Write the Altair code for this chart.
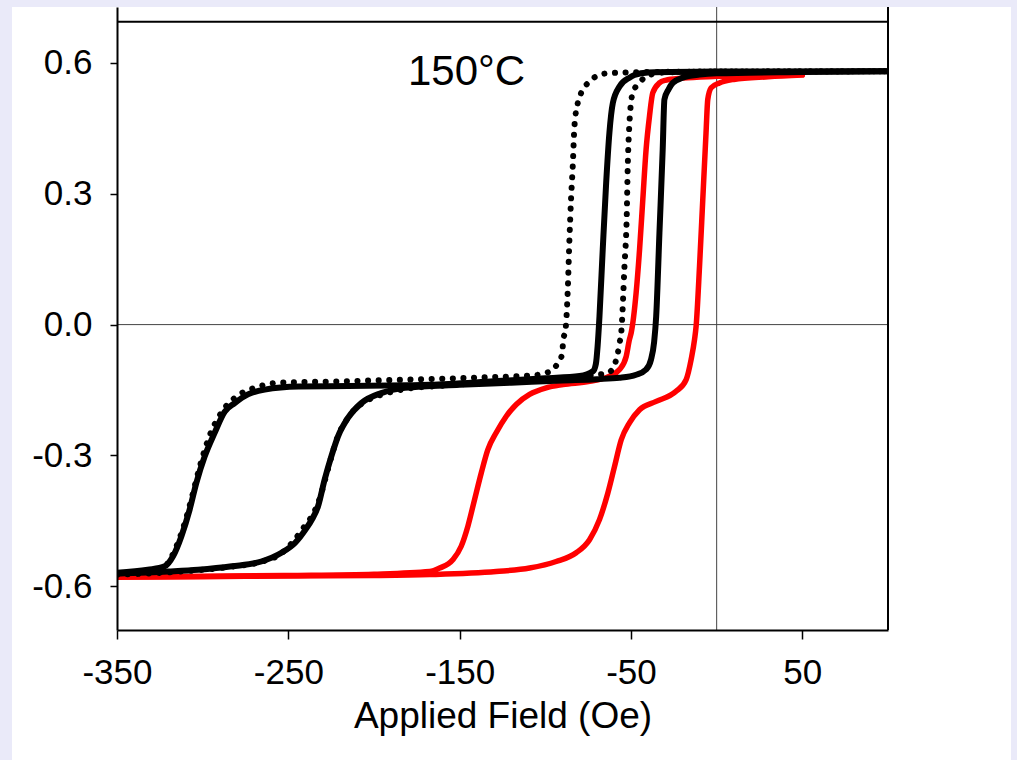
import altair as alt
import pandas as pd

# ---- data (Applied field in Oe, moment) ----
DOT_DOWN_F = [100, 50, 0, -40, -60, -66, -69.4, -74.2, -79.1, -81, -83, -84, -85, -86, -86.9, -88.2,
              -89.7, -90, -92.7, -97.6, -109, -130, -160, -200, -230, -246, -258, -269.7, -275.4,
              -281.3, -287.2, -291, -295, -298.8, -302.7, -306.6, -310.5, -315.3, -320.2, -324, -335, -350]
DOT_DOWN_M = [0.581, 0.58, 0.58, 0.579, 0.577, 0.575, 0.571, 0.557, 0.531, 0.509, 0.455, 0.363, 0.287,
              0.188, 0.08, -0.011, -0.038, -0.065, -0.088, -0.108, -0.117, -0.12, -0.124, -0.128,
              -0.131, -0.132, -0.134, -0.145, -0.153, -0.168, -0.191, -0.214, -0.245, -0.287, -0.34,
              -0.40, -0.455, -0.508, -0.546, -0.562, -0.568, -0.572]

DOT_UP_F = [-350, -320, -300, -283, -266, -254, -246.3, -240.5, -235, -231, -228.5, -225, -221.5, -216,
            -210, -203, -195, -182, -160, -130, -100, -80, -70.3, -63.5, -59.6, -57.7, -56.7, -55.7,
            -53.8, -52.5, -51.9, -51, -49, -45.2, -39.2, -30, 0, 100]
DOT_UP_M = [-0.573, -0.568, -0.562, -0.555, -0.544, -0.524, -0.493, -0.462, -0.43, -0.39, -0.355,
            -0.305, -0.26, -0.218, -0.19, -0.172, -0.16, -0.148, -0.14, -0.132, -0.125, -0.12, -0.115,
            -0.111, -0.092, -0.065, -0.042, -0.019, 0.134, 0.248, 0.363, 0.455, 0.531, 0.554, 0.572,
            0.578, 0.58, 0.581]

SOL_DOWN_F = [100, 0, -40, -48, -50.9, -56.7, -60.6, -62.6, -64.5, -66.5, -68.4, -69.5, -70.5, -72.2,
              -80, -100, -130, -167.7, -180.2, -215.2, -244, -263.8, -273.6, -281.3, -287.2, -293,
              -298.8, -303.7, -307.6, -312.4, -317.3, -322.2, -332, -350]
SOL_DOWN_M = [0.581, 0.58, 0.578, 0.572, 0.566, 0.546, 0.508, 0.44, 0.325, 0.172, 0.019, -0.05, -0.09,
              -0.107, -0.118, -0.123, -0.13, -0.138, -0.139, -0.141, -0.142, -0.149, -0.16, -0.18,
              -0.2, -0.248, -0.302, -0.363, -0.424, -0.485, -0.531, -0.554, -0.562, -0.569]

SOL_UP_F = [-350, -320, -302.7, -283, -265.8, -254, -246, -240, -236, -232.7, -228.8, -224.9, -221,
            -215.2, -207.4, -195.8, -182, -150, -120, -90, -70, -56.7, -47, -41.2, -38.3, -36.5,
            -35.3, -33.4, -31.5, -30.5, -28, -25.6, -19.8, -10, 0, 50, 100]
SOL_UP_M = [-0.571, -0.566, -0.562, -0.554, -0.543, -0.523, -0.5, -0.47, -0.445, -0.417, -0.355,
            -0.302, -0.256, -0.214, -0.18, -0.157, -0.145, -0.138, -0.133, -0.128, -0.125, -0.122,
            -0.115, -0.103, -0.08, -0.04, 0.019, 0.21, 0.401, 0.516, 0.54, 0.554, 0.566, 0.573,
            0.576, 0.579, 0.581]

RED_DOWN_F = [50, 0, -20, -30, -33.4, -37.3, -39.2, -41.2, -43.1, -45, -47, -49.9, -50.9, -52.8, -56.7,
              -62.6, -74.2, -89.7, -99.5, -109.2, -117, -122.8, -128.7, -133.6, -137.4, -141.3,
              -145.2, -149.1, -154, -161.7, -167.5, -200, -250, -300, -350]
RED_DOWN_M = [0.573, 0.569, 0.565, 0.56, 0.554, 0.531, 0.478, 0.401, 0.287, 0.172, 0.073, -0.019,
              -0.034, -0.073, -0.103, -0.118, -0.13, -0.1375, -0.145, -0.16, -0.183, -0.21, -0.248,
              -0.287, -0.34, -0.401, -0.462, -0.508, -0.539, -0.558, -0.566, -0.572, -0.575, -0.577,
              -0.578]

RED_UP_F = [-350, -300, -250, -200, -167.5, -128.7, -109.2, -93.7, -82, -74.2, -68.4, -63.5, -59.6,
            -55.7, -50.9, -45, -35.3, -23.7, -17.8, -14.9, -12.9, -12, -10, -8.1, -6.2, -5.2, -3.2,
            1.6, 10, 30, 50]
RED_UP_M = [-0.579, -0.578, -0.576, -0.575, -0.573, -0.566, -0.558, -0.543, -0.523, -0.493, -0.447,
            -0.386, -0.325, -0.264, -0.225, -0.195, -0.176, -0.153, -0.126, -0.08, -0.034, -0.004,
            0.134, 0.287, 0.44, 0.516, 0.543, 0.554, 0.562, 0.568, 0.572]

X_TICKS = [-350, -250, -150, -50, 50]
Y_TICKS = [-0.6, -0.3, 0.0, 0.3, 0.6]
X_TITLE = "Applied Field (Oe)"
ANNOTATION = "150°C"


def branch(fields, moments, name):
    return pd.DataFrame({"field": fields, "moment": moments, "branch": name})


dotted = pd.concat([branch(DOT_DOWN_F, DOT_DOWN_M, "down"), branch(DOT_UP_F, DOT_UP_M, "up")])
solid = pd.concat([branch(SOL_DOWN_F, SOL_DOWN_M, "down"), branch(SOL_UP_F, SOL_UP_M, "up")])
red = pd.concat([branch(RED_DOWN_F, RED_DOWN_M, "down"), branch(RED_UP_F, RED_UP_M, "up")])

W, H = 771, 623
FONT = "Liberation Sans"

xscale = alt.Scale(domain=[-350, 100], nice=False, zero=False)
yscale = alt.Scale(domain=[-0.7, 0.728], nice=False, zero=False)

xaxis = alt.Axis(values=X_TICKS, labelExpr="datum.value + ''", title=X_TITLE, labelFlush=False,
                 grid=False, zindex=1, labelFont=FONT, labelFontSize=35, labelColor="black",
                 labelPadding=16, tickSize=9, tickColor="black", tickWidth=1.5,
                 domainColor="black", domainWidth=2, titleFont=FONT, titleFontSize=37,
                 titleFontWeight="normal", titleColor="black", titlePadding=8)
yaxis = alt.Axis(values=Y_TICKS, labelFlush=False,
                 labelExpr="replace(format(datum.value, '.1f'), '\u2212', '-')",
                 title=None, grid=False, zindex=1, labelFont=FONT, labelFontSize=35,
                 labelColor="black", labelPadding=18, tickSize=7, tickColor="black",
                 tickWidth=1.5, domainColor="black", domainWidth=2)

one = pd.DataFrame({"a": [0]})

panel = alt.Chart(one).mark_rect(fill="white", clip=False).encode(
    x=alt.value(-105), x2=alt.value(894), y=alt.value(0), y2=alt.value(760))

zero_h = alt.Chart(one).mark_rule(color="#444444", strokeWidth=1).encode(
    y=alt.datum(0, scale=yscale), x=alt.value(0), x2=alt.value(W))
zero_v = alt.Chart(one).mark_rule(color="#444444", strokeWidth=1).encode(
    x=alt.datum(0, scale=xscale), y=alt.value(0), y2=alt.value(H))
top_line = alt.Chart(one).mark_rule(color="black", strokeWidth=2).encode(
    y=alt.value(14.7), x=alt.value(0), x2=alt.value(W))
right_line = alt.Chart(one).mark_rule(color="black", strokeWidth=2).encode(
    x=alt.value(W), y=alt.value(0), y2=alt.value(H))


def lines(df, color, width, dash=None):
    kw = dict(color=color, strokeWidth=width, strokeCap="round", strokeJoin="round",
              interpolate="monotone", clip=True)
    if dash is not None:
        kw["strokeDash"] = dash
    return alt.Chart(df).mark_line(**kw).encode(
        x=alt.X("field:Q", scale=xscale, axis=xaxis),
        y=alt.Y("moment:Q", scale=yscale, axis=yaxis),
        detail="branch:N",
        order="field:Q",
    )


red_l = lines(red, "#FF0000", 5.5)
solid_l = lines(solid, "black", 6)
dot_l = lines(dotted, "black", 6, [0.1, 10.5])

label = alt.Chart(one).mark_text(text=ANNOTATION, font=FONT, fontSize=42, color="black",
                                 align="center", baseline="middle").encode(
    x=alt.datum(-146, scale=xscale), y=alt.datum(0.58, scale=yscale))

chart = alt.layer(panel, zero_h, zero_v, top_line, right_line, red_l, solid_l, dot_l, label).properties(
    width=W, height=H,
    padding={"left": 117, "top": 7, "right": 1017 - 117 - W, "bottom": 760 - 7 - H},
    autosize=alt.AutoSizeParams(type="none"),
    background="#EAEAF9",
).configure_view(strokeWidth=0)

chart.save("out.html", embed_options={"renderer": "svg", "actions": False})
